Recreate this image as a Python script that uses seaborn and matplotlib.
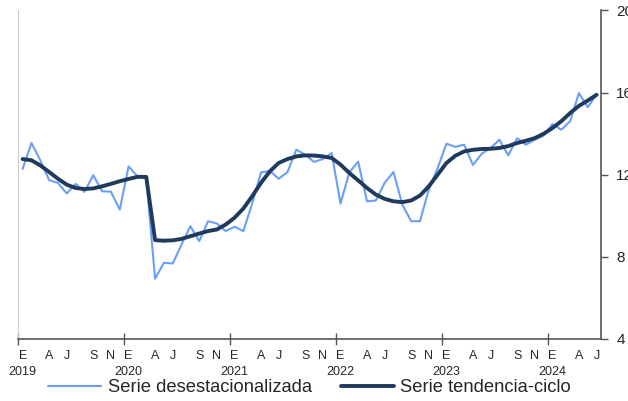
import numpy as np
import pandas as pd
import matplotlib
matplotlib.use("Agg")
import matplotlib.pyplot as plt
import seaborn as sns

# monthly series, Jan 2019 - Jun 2024
meses = ["E", "F", "M", "A", "M", "J", "J", "A", "S", "O", "N", "D"]
anios = [2019, 2020, 2021, 2022, 2023, 2024]

desestacionalizada = [
    12.28, 13.54, 12.70, 11.73, 11.60, 11.08, 11.55, 11.16, 11.97, 11.19, 11.17, 10.30,
    12.40, 11.92, 11.84, 6.93, 7.71, 7.67, 8.60, 9.49, 8.76, 9.73, 9.62, 9.25,
    9.46, 9.25, 10.60, 12.11, 12.18, 11.80, 12.13, 13.22, 12.97, 12.62, 12.76, 13.05,
    10.59, 12.11, 12.63, 10.70, 10.74, 11.60, 12.13, 10.54, 9.73, 9.73, 11.27, 12.32,
    13.51, 13.35, 13.46, 12.47, 13.02, 13.30, 13.70, 12.94, 13.77, 13.46, 13.70, 13.90,
    14.46, 14.19, 14.60, 15.97, 15.29, 15.89,
]
tendencia = [
    12.76, 12.70, 12.45, 12.13, 11.80, 11.51, 11.35, 11.30, 11.33, 11.43, 11.55, 11.68,
    11.79, 11.89, 11.89, 8.81, 8.78, 8.80, 8.87, 9.00, 9.13, 9.25, 9.33, 9.57,
    9.90, 10.35, 10.95, 11.60, 12.16, 12.57, 12.76, 12.89, 12.94, 12.93, 12.89, 12.81,
    12.49, 12.08, 11.72, 11.35, 11.03, 10.82, 10.70, 10.66, 10.74, 10.98, 11.43, 12.00,
    12.57, 12.92, 13.13, 13.21, 13.25, 13.26, 13.30, 13.39, 13.54, 13.65, 13.78, 13.99,
    14.27, 14.60, 15.00, 15.35, 15.61, 15.89,
]

n = len(tendencia)
mes_idx = np.arange(n)
df = pd.DataFrame({
    "mes": np.concatenate([mes_idx, mes_idx]),
    "valor": desestacionalizada + tendencia,
    "serie": ["Serie desestacionalizada"] * n + ["Serie tendencia-ciclo"] * n,
})

sns.set_style("white")
plt.rcParams["font.family"] = ["Liberation Sans", "DejaVu Sans"]

fig = plt.figure(figsize=(6.28, 4.01), dpi=100)
ax = fig.add_axes([0.029, 0.155, 0.928, 0.819])

sns.lineplot(data=df, x="mes", y="valor", hue="serie", size="serie",
             palette={"Serie desestacionalizada": "#6a9ff5",
                      "Serie tendencia-ciclo": "#1f3a5c"},
             sizes={"Serie desestacionalizada": 1.5,
                    "Serie tendencia-ciclo": 2.8},
             ax=ax)

ax.set_xlim(-0.5, n - 0.5)
ax.set_ylim(4, 20)
ax.set_xlabel("")
ax.set_ylabel("")

# y axis on the right
ax.yaxis.tick_right()
ax.set_yticks([4, 8, 12, 16, 20])
ax.tick_params(axis="y", direction="out", length=5, width=1, color="#555555",
               labelsize=11, pad=6, left=False, right=True)

# year boundaries as tick marks, month letters as labels
ax.set_xticks([i * 12 - 0.5 for i in range(len(anios))])
ax.set_xticklabels([])
ax.tick_params(axis="x", which="major", direction="inout", length=8, width=1,
               color="#555555", bottom=True)
pos, etiquetas = [], []
for k in range(n):
    m = k % 12
    if m in (0, 3, 5, 8, 10):
        pos.append(k)
        etiquetas.append("E\n%d" % anios[k // 12] if m == 0 else meses[m])
ax.set_xticks(pos, minor=True)
ax.set_xticklabels(etiquetas, minor=True, va="top", linespacing=1.4)
ax.tick_params(axis="x", which="minor", length=0, labelsize=9, pad=8)

ax.spines["top"].set_visible(False)
ax.spines["left"].set_color("#cccccc")
ax.spines["bottom"].set_color("#555555")
ax.spines["right"].set_color("#555555")
ax.spines["right"].set_linewidth(1.2)
ax.spines["bottom"].set_linewidth(1.2)

ax.legend(loc="center", bbox_to_anchor=(0.5, -0.149), ncol=2, frameon=False,
          fontsize=13.2, handlelength=2.9, handletextpad=0.35, columnspacing=1.6,
          borderaxespad=0)

fig.savefig("out.png", dpi=100)
